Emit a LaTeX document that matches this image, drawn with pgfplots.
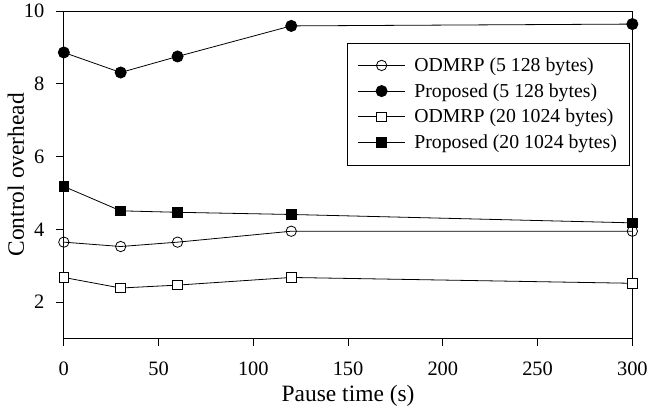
\documentclass[border=0pt]{standalone}
\usepackage{fontspec}
\setmainfont{Liberation Serif}
\usepackage{pgfplots}
\pgfplotsset{compat=1.18}
\begin{document}
\begin{tikzpicture}
\begin{axis}[
  scale only axis,
  width=570bp, height=328.5bp,
  xmin=0, xmax=300, ymin=1, ymax=10,
  xtick={0,50,100,150,200,250,300},
  ytick={2,4,6,8,10},
  xtick pos=left, ytick pos=left,
  tick align=outside,
  major tick length=7.5bp,
  /pgf/number format/assume math mode=true,
  tick label style={font=\fontsize{20.5bp}{24bp}\selectfont},
  xticklabel style={yshift=-12bp},
  yticklabel style={xshift=-8.5bp},
  label style={font=\fontsize{23.5bp}{27bp}\selectfont},
  xlabel={Pause time (s)},
  ylabel={Control overhead},
  xlabel style={at={(axis description cs:0.5,-0.193)}, anchor=base},
  ylabel style={at={(axis description cs:-0.0702,0.5)}, anchor=base, rotate=0},
  axis line style={line width=0.8bp},
  every tick/.style={line width=0.8bp, black},
  legend style={at={(0.996,0.9035)}, anchor=north east, draw=black, line width=0.6bp,
    font=\fontsize{19.8bp}{23bp}\selectfont, row sep=6.5bp, inner xsep=11bp, inner ysep=13bp},
  legend cell align=left,
  legend image code/.code={
    \draw[mark repeat=2, mark phase=2] plot coordinates {(0bp,0bp) (23.5bp,0bp) (47bp,0bp)};
    \path (54bp,0bp);
  },
  every axis plot/.append style={black, line width=0.8bp},
]
\addplot[mark=o, mark options={fill=white, line width=0.8bp}, mark size=5.2bp]
 coordinates {(0,3.65) (30,3.53) (60,3.65) (120,3.95) (300,3.95)};
\addlegendentry{ODMRP (5 128 bytes)}
\addplot[mark=*, mark options={fill=black}, mark size=5.6bp]
 coordinates {(0,8.86) (30,8.31) (60,8.75) (120,9.59) (300,9.64)};
\addlegendentry{Proposed (5 128 bytes)}
\addplot[mark=square*, mark options={fill=white, line width=0.8bp}, mark size=4.8bp]
 coordinates {(0,2.68) (30,2.39) (60,2.47) (120,2.68) (300,2.52)};
\addlegendentry{ODMRP (20 1024 bytes)}
\addplot[mark=square*, mark options={fill=black}, mark size=4.8bp]
 coordinates {(0,5.18) (30,4.51) (60,4.47) (120,4.41) (300,4.18)};
\addlegendentry{Proposed (20 1024 bytes)}
\end{axis}
\path (current axis.south west) ++(-64bp,-70.5bp) coordinate (bbA);
\path (current axis.north east) ++(17bp,11bp) coordinate (bbB);
\end{tikzpicture}
\end{document}
